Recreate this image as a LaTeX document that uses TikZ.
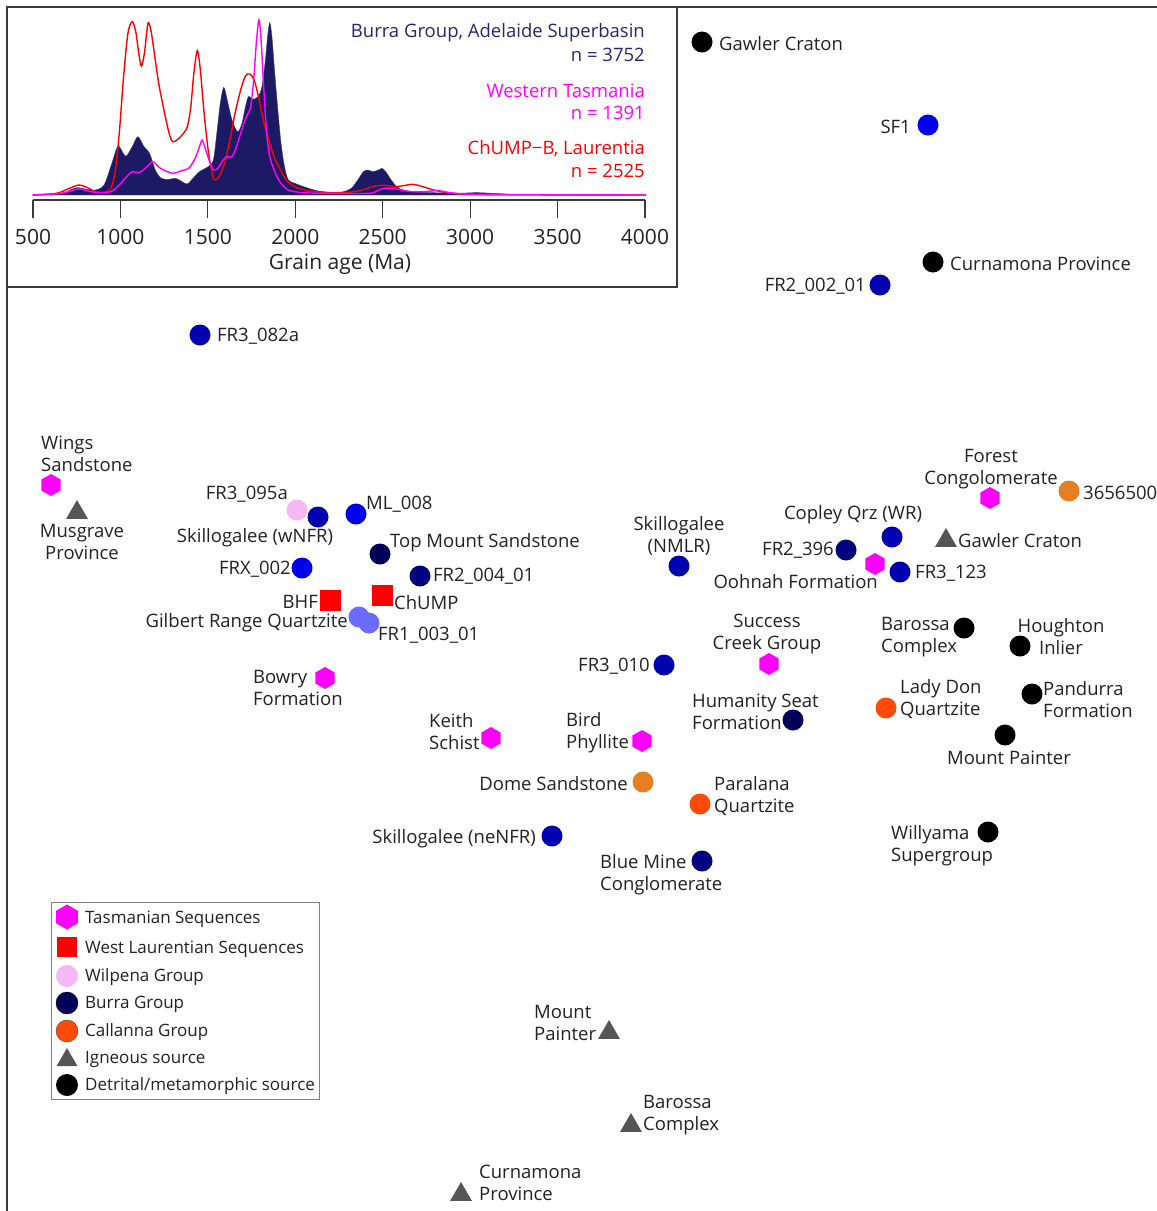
\documentclass[tikz,border=0pt]{standalone}
\usepackage{fontspec}
\setmainfont{Open Sans}
\usetikzlibrary{shapes.geometric}
\definecolor{tas}{HTML}{FF00FF}
\definecolor{laur}{HTML}{FF0000}
\definecolor{wil}{HTML}{F5B8F5}
\definecolor{burraA}{HTML}{00005A}
\definecolor{burraB}{HTML}{000080}
\definecolor{burraC}{HTML}{0000B0}
\definecolor{burraD}{HTML}{0000EE}
\definecolor{burraE}{HTML}{6B6BFF}
\definecolor{call}{HTML}{FF4A0A}
\definecolor{callO}{HTML}{E67E22}
\definecolor{ign}{HTML}{555555}
\definecolor{txt}{HTML}{222222}
\definecolor{burratxt}{HTML}{262673}
\definecolor{burrafill}{HTML}{1C1A64}
\definecolor{framec}{HTML}{3A3A3A}
\tikzset{
  lbl/.style={inner sep=0pt, text=txt, font=\fontsize{18.5}{22}\selectfont, yshift=-1.5pt},
  dot/.style={circle, fill=#1, minimum size=21pt, inner sep=0pt},
  hexm/.style={regular polygon, regular polygon sides=6, shape border rotate=30, fill=tas, minimum size=22pt, inner sep=0pt},
  trim/.style={regular polygon, regular polygon sides=3, fill=ign, minimum size=25pt, inner sep=0pt},
  sqm/.style={rectangle, fill=laur, minimum size=21pt, inner sep=0pt},
  framel/.style={draw=framec, line width=1.2pt},
  ticklbl/.style={inner sep=0pt, text=txt, font=\fontsize{21}{25}\selectfont, yshift=-1.5pt},
  leglbl/.style={inner sep=0pt, text=txt, font=\fontsize{17}{20}\selectfont, anchor=west, yshift=-1.5pt},
}
\begin{document}
\begin{tikzpicture}[x=1pt,y=-1pt]
\useasboundingbox (0,0) rectangle (1157,1211);
\fill[white] (0,0) rectangle (1157,1211);
% frame lines
\draw[framel] (1157,7) -- (7,7) -- (7,1211);
\draw[framel] (7,7) rectangle (677,287);
% inset curves
\begin{scope}[x=0.43365pt, y=-0.33333pt]
\fill[burrafill, draw=burrafill!70!gray, line width=0.4pt] plot[smooth, tension=0.5] coordinates {(75,585) (140,582) (165,568) (180,563) (200,568) (220,570) (240,555) (258,490) (272,438) (285,462) (292,468) (305,440) (318,410) (332,440) (345,460) (358,510) (372,535) (390,538) (405,535) (420,545) (432,552) (445,535) (460,515) (480,500) (492,480) (500,400) (508,310) (516,262) (524,300) (535,360) (548,395) (558,370) (566,320) (573,290) (583,298) (595,290) (604,260) (612,180) (617,110) (622,68) (627,110) (633,210) (640,320) (648,430) (656,500) (665,540) (680,550) (700,560) (730,572) (760,577) (790,576) (810,565) (825,540) (838,515) (848,510) (860,515) (873,510) (882,505) (892,520) (905,545) (920,565) (950,575) (1000,578) (1050,580) (1100,578) (1150,581) (1200,584) (1300,585) (1490,585)} -- cycle;
\draw[laur, line width=1.4pt] plot[smooth, tension=0.5] coordinates {(75,585) (130,580) (160,565) (182,555) (200,562) (220,575) (240,577) (255,565) (265,520) (275,400) (285,230) (295,100) (305,65) (313,95) (320,160) (326,198) (333,160) (338,100) (342,68) (348,90) (356,160) (366,250) (378,330) (390,400) (398,425) (408,420) (420,405) (432,380) (440,320) (447,220) (455,152) (462,210) (470,330) (480,450) (490,525) (496,540) (505,530) (518,490) (530,420) (542,340) (555,270) (566,228) (576,222) (586,240) (596,290) (607,360) (620,420) (632,470) (645,505) (660,540) (680,560) (710,572) (760,578) (810,576) (840,568) (865,558) (890,556) (910,560) (930,557) (952,553) (975,560) (1000,570) (1030,578) (1080,582) (1150,584) (1490,585)};
\draw[tas, line width=1.4pt] plot[smooth, tension=0.5] coordinates {(75,585) (140,580) (170,570) (185,567) (205,574) (230,578) (255,575) (275,555) (292,530) (305,515) (320,518) (335,505) (352,485) (365,500) (380,512) (400,520) (418,512) (435,505) (450,475) (460,440) (466,420) (472,440) (482,480) (492,510) (502,505) (512,485) (522,470) (535,470) (545,440) (555,400) (565,360) (572,340) (578,320) (585,240) (591,130) (597,60) (602,120) (608,260) (615,400) (622,470) (632,510) (645,545) (665,570) (700,578) (760,580) (850,580) (870,572) (885,565) (905,565) (925,570) (950,575) (980,575) (1010,572) (1040,578) (1100,583) (1490,585)};
\end{scope}
% axis
\coordinate (axL) at (33,200);
\coordinate (axR) at (645,200);
\draw[draw=framec, line width=1.2pt] (axL) -- (axR);
\foreach \a in {500,1000,...,4000} {
  \pgfmathsetmacro{\xx}{33+(\a-500)*0.174857}
  \draw[draw=framec, line width=1.2pt] (\xx,200) -- (\xx,218);
  \node[ticklbl] (tick\a) at (\xx,235) {\a};
}
\node[ticklbl] (xlab) at (340,263) {Grain age (Ma)};
\node[lbl, anchor=east, text=burratxt] (lg1) at (645,31) {Burra Group, Adelaide Superbasin};
\node[lbl, anchor=east, text=burratxt] (lg1n) at (645,53) {n = 3752};
\node[lbl, anchor=east, text=tas] (lg2) at (645,89) {Western Tasmania};
\node[lbl, anchor=east, text=tas] (lg2n) at (645,111) {n = 1391};
\node[lbl, anchor=east, text=laur] (lg3) at (645,147) {ChUMP−B, Laurentia};
\node[lbl, anchor=east, text=laur] (lg3n) at (645,169) {n = 2525};
% ---- markers and labels ----
\node[dot=black] (gcD) at (702,42) {};
\node[lbl, anchor=west] (gcDl) at (719,42) {Gawler Craton};
\node[dot=burraD] (sf1) at (928,125) {};
\node[lbl, anchor=east] (sf1l) at (911,125) {SF1};
\node[dot=black] (cpD) at (933,262) {};
\node[lbl, anchor=west] (cpDl) at (950,262) {Curnamona Province};
\node[dot=burraC] (fr2002) at (880,285) {};
\node[lbl, anchor=east] (fr2002l) at (866,285) {FR2\_002\_01};
\node[dot=burraC] (fr3082) at (200,335) {};
\node[lbl, anchor=west] (fr3082l) at (217,335) {FR3\_082a};
\node[hexm] (wings) at (51,485) {};
\node[lbl, anchor=west, align=left] (wingsl) at (41,452) {Wings\\Sandstone};
\node[trim] (musg) at (77,512.5) {};
\node[lbl, align=center] (musgl) at (82,540.5) {Musgrave\\Province};
\node[dot=wil] (fr3095) at (297,510) {};
\node[lbl, anchor=east] (fr3095l) at (288,493) {FR3\_095a};
\node[dot=burraC] (skw) at (318,517) {};
\node[lbl] (skwl) at (255,536) {Skillogalee (wNFR)};
\node[dot=burraD] (ml008) at (356,514) {};
\node[lbl, anchor=west] (ml008l) at (366,503) {ML\_008};
\node[dot=burraA] (topm) at (380,554) {};
\node[lbl, anchor=west] (topml) at (390,541) {Top Mount Sandstone};
\node[dot=burraD] (frx) at (302,568) {};
\node[lbl, anchor=east] (frxl) at (291,568) {FRX\_002};
\node[dot=burraB] (fr2004) at (420,576) {};
\node[lbl, anchor=west] (fr2004l) at (433,575) {FR2\_004\_01};
\node[sqm] (bhf) at (330,600) {};
\node[lbl, anchor=east] (bhfl) at (318,600) {BHF};
\node[sqm] (chump) at (382,595) {};
\node[lbl, anchor=west] (chumpl) at (394,601) {ChUMP};
\node[dot=burraE] (gilb) at (359,617) {};
\node[lbl, anchor=east] (gilbl) at (348,621) {Gilbert Range Quartzite};
\node[dot=burraE] (fr1003) at (369,623) {};
\node[lbl, anchor=west] (fr1003l) at (378,634) {FR1\_003\_01};
\node[hexm] (bowry) at (325,678) {};
\node[lbl, anchor=west, align=left] (bowryl) at (253,686) {Bowry\\Formation};
\node[hexm] (keith) at (491,738) {};
\node[lbl, anchor=west, align=left] (keithl) at (429,730) {Keith\\Schist};
\node[hexm] (bird) at (642,741) {};
\node[lbl, anchor=west, align=left] (birdl) at (566,731) {Bird\\Phyllite};
\node[dot=callO] (dome) at (643,782) {};
\node[lbl, anchor=east] (domel) at (628,782) {Dome Sandstone};
\node[dot=call] (paral) at (700,804) {};
\node[lbl, anchor=west, align=left] (parall) at (714,795) {Paralana\\Quartzite};
\node[dot=burraC] (skne) at (552,836) {};
\node[lbl, anchor=east] (sknel) at (536,837) {Skillogalee (neNFR)};
\node[dot=burraB] (bmine) at (702,861) {};
\node[lbl, anchor=west, align=left] (bminel) at (600,873) {Blue Mine\\Conglomerate};
\node[dot=burraC] (fr3010) at (664,665) {};
\node[lbl, anchor=east] (fr3010l) at (650,665) {FR3\_010};
\node[hexm] (succ) at (769,664) {};
\node[lbl, align=center] (succl) at (767,633) {Success\\Creek Group};
\node[dot=burraA] (hum) at (793,720) {};
\node[lbl, anchor=west, align=left] (huml) at (692,710) {Humanity Seat\\Formation};
\node[dot=burraC] (sknm) at (679,566) {};
\node[lbl, align=center] (sknml) at (679,534) {Skillogalee\\(NMLR)};
\node[dot=burraC] (copley) at (892,537) {};
\node[lbl] (copleyl) at (853,513) {Copley Qrz (WR)};
\node[dot=burraB] (fr2396) at (846,550) {};
\node[lbl, anchor=east] (fr2396l) at (834,549) {FR2\_396};
\node[hexm] (oohn) at (875,564) {};
\node[lbl, anchor=east] (oohnl) at (878,580) {Oohnah Formation};
\node[dot=burraC] (fr3123) at (900,572) {};
\node[lbl, anchor=west] (fr3123l) at (915,572) {FR3\_123};
\node[trim] (gcT) at (946,540.5) {};
\node[lbl, anchor=west] (gcTl) at (958,539) {Gawler Craton};
\node[hexm] (forest) at (990,498) {};
\node[lbl, align=center] (forestl) at (991,468) {Forest\\Congolomerate};
\node[dot=callO] (s365) at (1069,491) {};
\node[lbl, anchor=west] (s365l) at (1083,491) {3656500};
\node[dot=black] (barD) at (964,628) {};
\node[lbl, anchor=west, align=left] (barDl) at (881,636) {Barossa\\Complex};
\node[dot=black] (hough) at (1020,646) {};
\node[lbl, align=center] (houghl) at (1061,635) {Houghton\\Inlier};
\node[dot=call] (lady) at (886,708) {};
\node[lbl, anchor=west, align=left] (ladyl) at (900,698) {Lady Don\\Quartzite};
\node[dot=black] (pand) at (1032,694) {};
\node[lbl, anchor=west, align=left] (pandl) at (1043,698) {Pandurra\\Formation};
\node[dot=black] (mpD) at (1005,735) {};
\node[lbl] (mpDl) at (1009,756) {Mount Painter};
\node[dot=black] (will) at (988,832) {};
\node[lbl, anchor=west, align=left] (willl) at (891,844) {Willyama\\Supergroup};
\node[trim] (mpT) at (609,1032.5) {};
\node[lbl, anchor=west, align=left] (mpTl) at (534,1021) {Mount\\Painter};
\node[trim] (barT) at (631,1125.5) {};
\node[lbl, anchor=west, align=left] (barTl) at (643,1114) {Barossa\\Complex};
\node[trim] (cpT) at (461,1194.5) {};
\node[lbl, anchor=west, align=left] (cpTl) at (479,1181) {Curnamona\\Province};
% ---- legend ----
\draw[draw=gray, line width=0.9pt] (51,902) rectangle (319,1099);
\node[hexm, minimum size=25pt] (k1) at (67,917) {};
\node[leglbl] (k1l) at (85,918) {Tasmanian Sequences};
\node[sqm, minimum size=20pt] (k2) at (67,947) {};
\node[leglbl] (k2l) at (85,948) {West Laurentian Sequences};
\node[dot=wil, minimum size=22pt] (k3) at (67,976) {};
\node[leglbl] (k3l) at (85,976) {Wilpena Group};
\node[dot=burraA, minimum size=22pt, draw=black, line width=0.4pt] (k4) at (67,1003) {};
\node[leglbl] (k4l) at (85,1003) {Burra Group};
\node[dot=call, minimum size=22pt, draw=black!70, line width=0.4pt] (k5) at (67,1031) {};
\node[leglbl] (k5l) at (85,1031) {Callanna Group};
\node[trim, minimum size=24pt] (k6) at (67,1060) {};
\node[leglbl] (k6l) at (85,1058) {Igneous source};
\node[dot=black, minimum size=22pt] (k7) at (67,1085) {};
\node[leglbl] (k7l) at (85,1085) {Detrital/metamorphic source};
\end{tikzpicture}
\end{document}
